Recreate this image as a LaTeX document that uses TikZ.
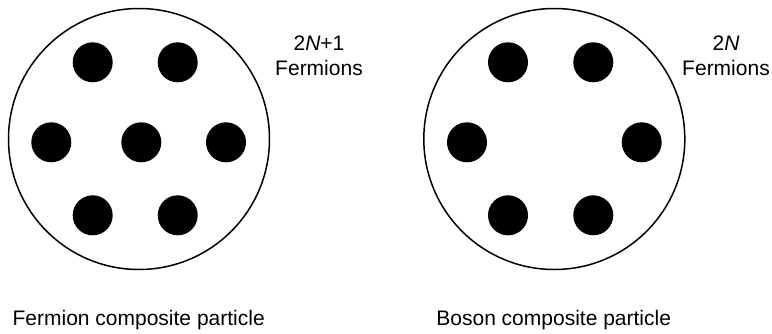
\documentclass[tikz,border=0pt]{standalone}
\usepackage{fontspec}
\setmainfont{Liberation Sans}
\begin{document}
\begin{tikzpicture}[x=1pt,y=-1pt,
  shell/.style={circle,draw=black,line width=1.5pt,minimum size=261pt,inner sep=0pt},
  dot/.style={circle,fill=black,minimum size=40pt,inner sep=0pt},
  lbl/.style={font=\fontsize{21}{25}\selectfont,align=center,inner sep=0pt}]
\useasboundingbox (0,0) rectangle (772,333);
% Fermion composite
\node[shell] (L) at (139,139) {};
\node[dot] (l1) at (92.7,62.3) {};
\node[dot] (l2) at (177.7,62.3) {};
\node[dot] (l3) at (51.3,142.3) {};
\node[dot] (l4) at (141.3,142.3) {};
\node[dot] (l5) at (226,142.3) {};
\node[dot] (l6) at (92.7,215.3) {};
\node[dot] (l7) at (177.7,215.3) {};
\node[lbl] (lt) at (319,56) {2\textit{N}+1\\Fermions};
\node[lbl] (lb) at (138.7,320) {Fermion composite particle};
% Boson composite
\node[shell] (R) at (554.3,139) {};
\node[dot] (r1) at (508,62.3) {};
\node[dot] (r2) at (593.3,62.3) {};
\node[dot] (r3) at (467,142.3) {};
\node[dot] (r4) at (641.7,142.3) {};
\node[dot] (r5) at (508,215.3) {};
\node[dot] (r6) at (593.3,215.3) {};
\node[lbl] (rt) at (726,56) {2\textit{N}\\Fermions};
\node[lbl] (rb) at (553.7,320) {Boson composite particle};
\end{tikzpicture}
\end{document}
